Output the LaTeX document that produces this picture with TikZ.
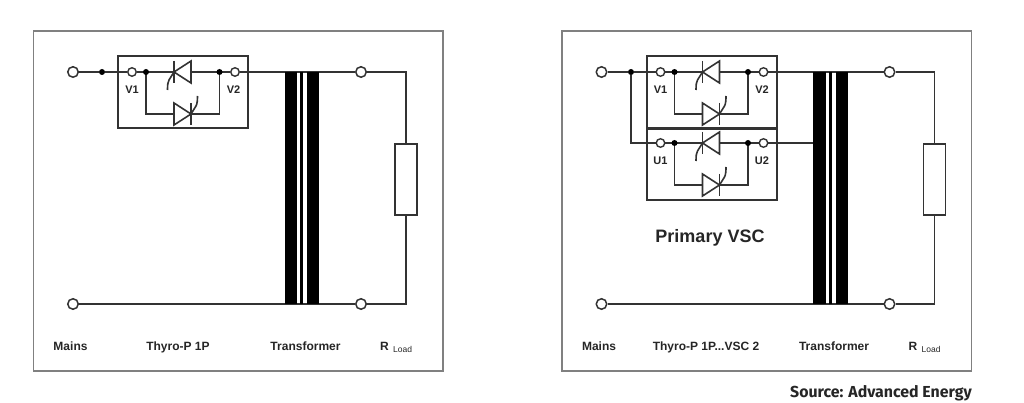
\documentclass[tikz,border=0pt]{standalone}
\usepackage{fontspec}
\setmainfont{Liberation Sans}
\newfontfamily\srcfont{Fira Sans}
\tikzset{
  x=1pt,y=-1pt,
  wire/.style={line width=1.9pt,draw=black!80},
  thin wire/.style={line width=1.6pt,draw=black!80},
  frame/.style={draw=black!50,line width=1.4pt,fill=white},
  blockbox/.style={draw=black!80,line width=1.8pt,rectangle,inner sep=0,minimum width=130pt},
  term/.style={circle,draw=black!80,line width=1.5pt,fill=white,inner sep=0,minimum size=10.5pt},
  smallterm/.style={circle,draw=black!80,line width=1.4pt,fill=white,inner sep=0,minimum size=8.5pt},
  jdot/.style={circle,fill=black,inner sep=0,minimum size=6pt},
  lbl/.style={font=\bfseries\fontsize{12}{14}\selectfont,text=black!85,inner sep=0,anchor=base},
  pinlbl/.style={font=\bfseries\fontsize{11}{13}\selectfont,text=black!85,inner sep=0,anchor=base},
  core/.style={fill=black,draw=none},
  resistor/.style={rectangle,draw=black!80,line width=1.5pt,fill=white,inner sep=0,minimum width=22pt,minimum height=71pt},
}
\newcommand{\thyroblock}[5]{%
  \begin{scope}[shift={(#2,#3)}]
    \coordinate (#1e) at (146,114);
    \coordinate (#1f) at (219.5,114);
    \node[smallterm] (#1a) at (132,72) {};
    \node[smallterm] (#1d) at (235,72) {};
    \draw[wire] (#1a) -- (146,72) -- (#1e) -- (#1f) -- (219.5,72) -- (#1d);
    \draw[wire] (146,72) -- (219.5,72);
    \node[jdot] (#1b) at (146,72) {};
    \node[jdot] (#1c) at (219.5,72) {};
    \node[pinlbl] at (132,93.5) {#4};
    \node[pinlbl] at (233.5,93.5) {#5};
    % upper thyristor
    \draw[thin wire,fill=white,line join=miter] (174,72) -- (191,61) -- (191,83) -- cycle;
    \draw[thin wire] (174,61) -- (174,83);
    \draw[thin wire] (174,72) -- (169,80) .. controls (167.8,82) and (167.5,85) .. (167.5,90);
    % lower thyristor
    \draw[thin wire,fill=white,line join=miter] (191,114) -- (174,103) -- (174,125) -- cycle;
    \draw[thin wire] (191,103) -- (191,125);
    \draw[thin wire] (191,114) -- (196,106) .. controls (197.2,104) and (197.5,100) .. (197.5,96);
  \end{scope}}
\newcommand{\corebars}[1]{%
  \fill[core] (#1+284.5,72) rectangle (#1+297,304);
  \fill[core] (#1+300,72) rectangle (#1+303,304);
  \fill[core] (#1+307,72) rectangle (#1+319,304);}
\newcommand{\rload}{R\,{\raisebox{-2pt}{\mdseries\fontsize{8.5}{9}\selectfont\ Load}}}
\begin{document}
\begin{tikzpicture}
\useasboundingbox (0,0) rectangle (1024,403);
\fill[white] (0,0) rectangle (1024,403);
\draw[frame] (33.5,31) rectangle (443,371);
\draw[frame] (562,31) rectangle (971.5,371);

% ---- left circuit
\node[term] (lin) at (73,72) {};
\node[jdot] (ldot) at (102,72) {};
\node[term] (lin2) at (73,304) {};
\node[term] (lout) at (361,72) {};
\node[term] (lout2) at (361,304) {};
\node[resistor] (lres) at (406,179.5) {};
\coordinate (ltr) at (406,72);
\coordinate (lbr) at (406,304);
\node[blockbox,minimum height=72pt] (Lbox) at (183,92) {};
\thyroblock{L}{0}{0}{V1}{V2}
\draw[wire] (lin) -- (ldot);
\draw[wire] (ldot) -- (La);
\draw[wire] (Ld) -- (lout);
\draw[wire] (lin2) -- (lout2);
\draw[wire] (lout) -- (ltr) -- (lres);
\draw[wire] (lres) -- (lbr) -- (lout2);
\corebars{0}
\node[lbl] at (70.5,350) {Mains};
\node[lbl] at (178,350) {Thyro-P 1P};
\node[lbl] at (305.5,350) {Transformer};
\node[lbl,anchor=base west] at (380,350) {\rload};

% ---- right circuit
\node[term] (rin) at (601.5,72) {};
\node[jdot] (rdot) at (631,72) {};
\node[term] (rin2) at (601.5,304) {};
\node[term] (rout) at (889.5,72) {};
\node[term] (rout2) at (889.5,304) {};
\node[resistor] (rres) at (934.5,179.5) {};
\coordinate (rtr) at (934.5,72);
\coordinate (rbr) at (934.5,304);
\coordinate (rlow) at (631,143);
\coordinate (rcore) at (813,143);
\node[blockbox,minimum height=72pt] (Vbox) at (712,92) {};
\node[blockbox,minimum height=71pt] (Ubox) at (712,164.5) {};
\thyroblock{V}{528.5}{0}{V1}{V2}
\thyroblock{U}{528.5}{71}{U1}{U2}
\draw[wire] (rin) -- (rdot);
\draw[wire] (rdot) -- (Va);
\draw[wire] (rdot) -- (rlow) -- (Ua);
\draw[wire] (Vd) -- (rout);
\draw[wire] (Ud) -- (rcore);
\draw[wire] (rin2) -- (rout2);
\draw[wire] (rout) -- (rtr) -- (rres);
\draw[wire] (rres) -- (rbr) -- (rout2);
\corebars{528.5}
\node[lbl,font=\bfseries\fontsize{18}{20}\selectfont] at (710,242.5) {Primary VSC};
\node[lbl] at (599,350) {Mains};
\node[lbl] at (706,350) {Thyro-P 1P...VSC 2};
\node[lbl] at (834,350) {Transformer};
\node[lbl,anchor=base west] at (908.5,350) {\rload};
\node[lbl,font=\srcfont\bfseries\fontsize{15.9}{17}\selectfont] at (881,397) {Source: Advanced Energy};
\end{tikzpicture}
\end{document}
